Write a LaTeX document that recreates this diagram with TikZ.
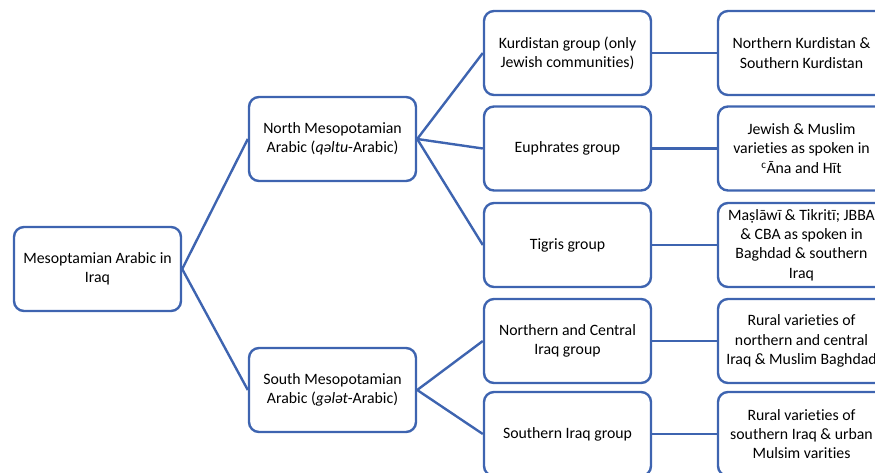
\documentclass[tikz,border=0pt]{standalone}
\usepackage{fontspec}
\setmainfont{Carlito}[Ligatures=NoCommon]
\definecolor{boxblue}{RGB}{62,100,176}

\tikzset{
  box/.style={draw=boxblue, line width=2.4pt, rounded corners=10pt, fill=white,
    minimum width=167pt, minimum height=84pt, align=center, inner sep=2pt,
    font=\fontsize{15.8}{19.3}\selectfont},
  link/.style={draw=boxblue, line width=2.4pt}
}

\begin{document}
\begin{tikzpicture}[x=1pt, y=-1pt]

    % page size of the reference
    \useasboundingbox (0,0) rectangle (875,472);

    % root
    \node[box] (root) at (97.5,269) {Mesoptamian Arabic in\\Iraq};

    % second level
    \node[box] (north) at (332.5,139) {North Mesopotamian\\Arabic (\textit{qəltu}-Arabic)};
    \node[box] (south) at (332.5,390) {South Mesopotamian\\Arabic (\textit{gələt}-Arabic)};

    % groups
    \node[box] (kurd)     at (567.5,53)  {Kurdistan group (only\\Jewish communities)};
    \node[box] (euph)     at (567.5,148.5) {Euphrates group};
    \node[box] (tigris)   at (567.5,245) {Tigris group};
    \node[box] (ncentral) at (567.5,341) {Northern and Central\\Iraq group};
    \node[box] (siraq)    at (567.5,434) {Southern Iraq group};

    % varieties
    \node[box] (kurdV)     at (801.5,53)  {Northern Kurdistan \&\\Southern Kurdistan};
    \node[box] (euphV)     at (801.5,148.5) {Jewish \& Muslim\\varieties as spoken in\\\textsuperscript{c}Āna and Hīt};
    \node[box] (tigrisV)   at (801.5,245) {Maṣlāwī \& Tikritī; JBBA\\\& CBA as spoken in\\Baghdad \& southern\\Iraq};
    \node[box] (ncentralV) at (801.5,341) {Rural varieties of\\northern and central\\Iraq \& Muslim Baghdad};
    \node[box] (siraqV)    at (801.5,434) {Rural varieties of\\southern Iraq \& urban\\Mulsim varities};

    % connectors
    \draw[link] (root.east) -- (north.west);
    \draw[link] (root.east) -- (south.west);
    \foreach \c in {kurd,euph,tigris}
        \draw[link] (north.east) -- (\c.west);
    \foreach \c in {ncentral,siraq}
        \draw[link] (south.east) -- (\c.west);
    \foreach \c in {kurd,euph,tigris,ncentral,siraq}
        \draw[link] (\c.east) -- (\c V.west);

\end{tikzpicture}
\end{document}
